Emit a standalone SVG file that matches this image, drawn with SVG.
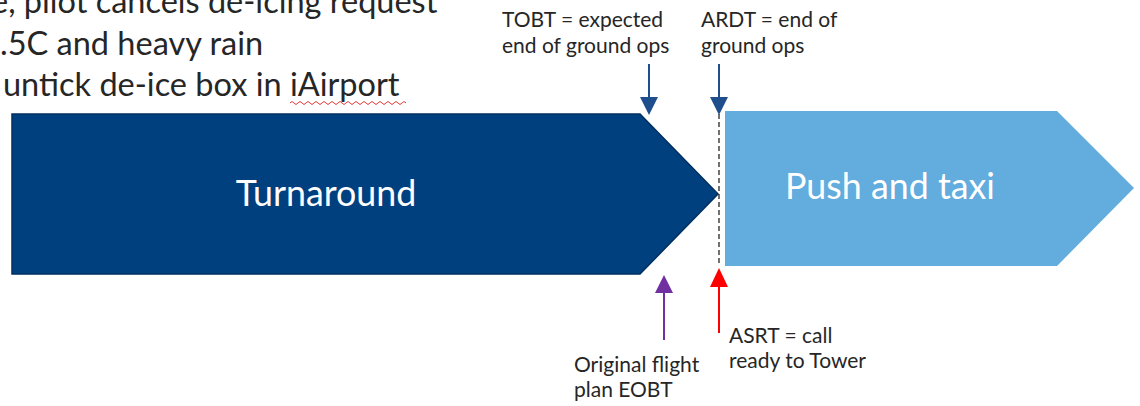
<svg xmlns="http://www.w3.org/2000/svg" width="1140" height="406" viewBox="0 0 1140 406">
  <defs>
    <style>
      .note { font-family: Lato, "Open Sans", "Liberation Sans", sans-serif; font-size: 32.5px; fill: #262626; }
      .label { font-family: Lato, "Open Sans", "Liberation Sans", sans-serif; font-size: 21px; fill: #262626; }
      .phase { font-family: Lato, "Open Sans", "Liberation Sans", sans-serif; font-size: 35.8px; fill: #ffffff; text-anchor: middle; }
    </style>
  </defs>

  <!-- notes at top left -->
  <g id="notes">
    <text class="note" x="-9" y="13">e, pilot cancels de-icing request</text>
    <text class="note" x="0" y="55">.5C and heavy rain</text>
    <text class="note" x="3" y="96">untick de-ice box in iAirport</text>
    <path d="M290,103 q2,-3 4,0 t4,0 t4,0 t4,0 t4,0 t4,0 t4,0 t4,0 t4,0 t4,0 t4,0 t4,0 t4,0 t4,0 t4,0 t4,0 t4,0 t4,0 t4,0 t4,0 t4,0 t4,0 t4,0 t4,0 t4,0 t4,0 t4,0 t4,0 t4,0" fill="none" stroke="#e23c3c" stroke-width="1"/>
  </g>

  <!-- phase: turnaround -->
  <g id="turnaround">
    <polygon points="12,114 640,114 718,194 640,274 12,274" fill="#00407F" stroke="#002F60" stroke-width="1.5"/>
    <text class="phase" x="326" y="206">Turnaround</text>
  </g>

  <!-- phase: push and taxi -->
  <g id="push-taxi">
    <polygon points="725,111 1057,111 1134,188 1057,266 725,266" fill="#62ACDE"/>
    <text class="phase" x="890" y="199">Push and taxi</text>
  </g>

  <!-- milestone labels -->
  <g id="tobt">
    <text class="label" x="502" y="27">TOBT = expected</text>
    <text class="label" x="502" y="53">end of ground ops</text>
  </g>
  <g id="ardt">
    <text class="label" x="701" y="27">ARDT = end of</text>
    <text class="label" x="701" y="53">ground ops</text>
  </g>
  <g id="eobt">
    <text class="label" x="574" y="372">Original flight</text>
    <text class="label" x="574" y="397">plan EOBT</text>
  </g>
  <g id="asrt">
    <text class="label" x="729" y="343">ASRT = call</text>
    <text class="label" x="729" y="368">ready to Tower</text>
  </g>

  <!-- connectors -->
  <g id="connectors">
    <line x1="719" y1="114" x2="719" y2="266" stroke="#262626" stroke-width="1.3" stroke-dasharray="5,3"/>
    <!-- TOBT -->
    <line x1="649" y1="64" x2="649" y2="98" stroke="#1F4E8C" stroke-width="2"/>
    <polygon points="640,97 658,97 649,115" fill="#1F4E8C"/>
    <!-- ARDT -->
    <line x1="719" y1="64" x2="719" y2="98" stroke="#1F4E8C" stroke-width="2"/>
    <polygon points="710,97 728,97 719,115" fill="#1F4E8C"/>
    <!-- EOBT -->
    <line x1="664" y1="291" x2="664" y2="340" stroke="#7030A0" stroke-width="2"/>
    <polygon points="655,293 673,293 664,275" fill="#7030A0"/>
    <!-- ASRT -->
    <line x1="719" y1="285" x2="719" y2="333" stroke="#FF0000" stroke-width="2"/>
    <polygon points="710,287 728,287 719,268" fill="#FF0000"/>
  </g>
</svg>
